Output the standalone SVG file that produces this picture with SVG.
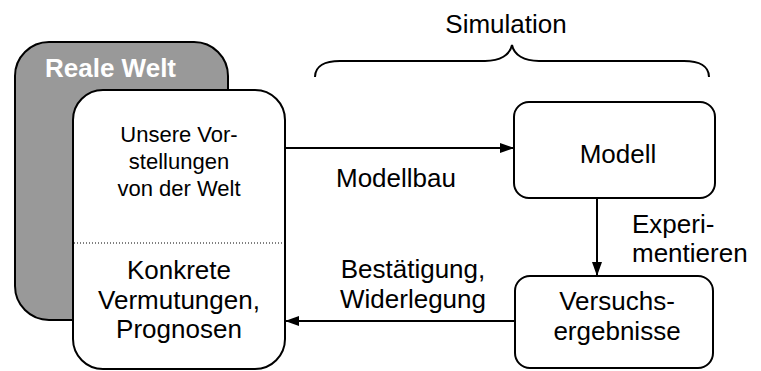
<svg xmlns="http://www.w3.org/2000/svg" width="761" height="371" viewBox="0 0 761 371">
<defs>
<marker id="arr" markerWidth="14" markerHeight="10" refX="14" refY="5" orient="auto" markerUnits="userSpaceOnUse">
<path d="M0,0 L14,5 L0,10 Z" fill="#000"/>
</marker>
</defs>
<style>
.box{fill:#fff;stroke:#000;stroke-width:2}
.t{font-family:"Liberation Sans",Arial,sans-serif;font-size:26px;fill:#000}
.c{text-anchor:middle}
.line{stroke:#000;stroke-width:2;fill:none}
</style>
<rect width="761" height="371" fill="#fff"/>
<g id="reale-welt">
<rect x="15" y="42" width="213" height="278" rx="34" fill="#999" stroke="#000" stroke-width="2"/>
<text x="45" y="77" style="font-family:'Liberation Sans',Arial,sans-serif;font-size:26px;font-weight:bold;fill:#fff">Reale Welt</text>
</g>
<g id="vorstellungen">
<rect class="box" x="73" y="90" width="212" height="279" rx="30"/>
<line x1="74" y1="243" x2="284" y2="243" stroke="#000" stroke-width="1" stroke-dasharray="1,2"/>
<text class="t c" x="179" y="142" style="font-size:22px">Unsere Vor-</text>
<text class="t c" x="179" y="169" style="font-size:22px">stellungen</text>
<text class="t c" x="179" y="196" style="font-size:22px">von der Welt</text>
<text class="t c" x="179" y="279">Konkrete</text>
<text class="t c" x="179" y="309">Vermutungen,</text>
<text class="t c" x="179" y="338">Prognosen</text>
</g>
<g id="modell">
<rect class="box" x="514" y="102" width="201" height="96" rx="15"/>
<text class="t c" x="618" y="163">Modell</text>
</g>
<g id="versuchsergebnisse">
<rect class="box" x="515" y="276" width="198" height="92" rx="15"/>
<text class="t c" x="617" y="310">Versuchs-</text>
<text class="t c" x="617" y="340">ergebnisse</text>
</g>
<g id="simulation">
<path class="line" d="M315,77 C315,66 325,61 340,61 L485,61 C500,61 510,55 512,45 C514,55 524,61 539,61 L684,61 C699,61 709,66 709,77"/>
<text class="t c" x="506" y="33">Simulation</text>
</g>
<g id="connectors">
<line class="line" x1="285" y1="148" x2="514" y2="148" marker-end="url(#arr)"/>
<line class="line" x1="597" y1="198" x2="597" y2="276" marker-end="url(#arr)"/>
<line class="line" x1="515" y1="321" x2="285" y2="321" marker-end="url(#arr)"/>
<text class="t" x="336" y="187">Modellbau</text>
<text class="t" x="632" y="233">Experi-</text>
<text class="t" x="632" y="262">mentieren</text>
<text class="t c" x="413" y="278">Bestätigung,</text>
<text class="t c" x="413" y="308">Widerlegung</text>
</g>
</svg>
